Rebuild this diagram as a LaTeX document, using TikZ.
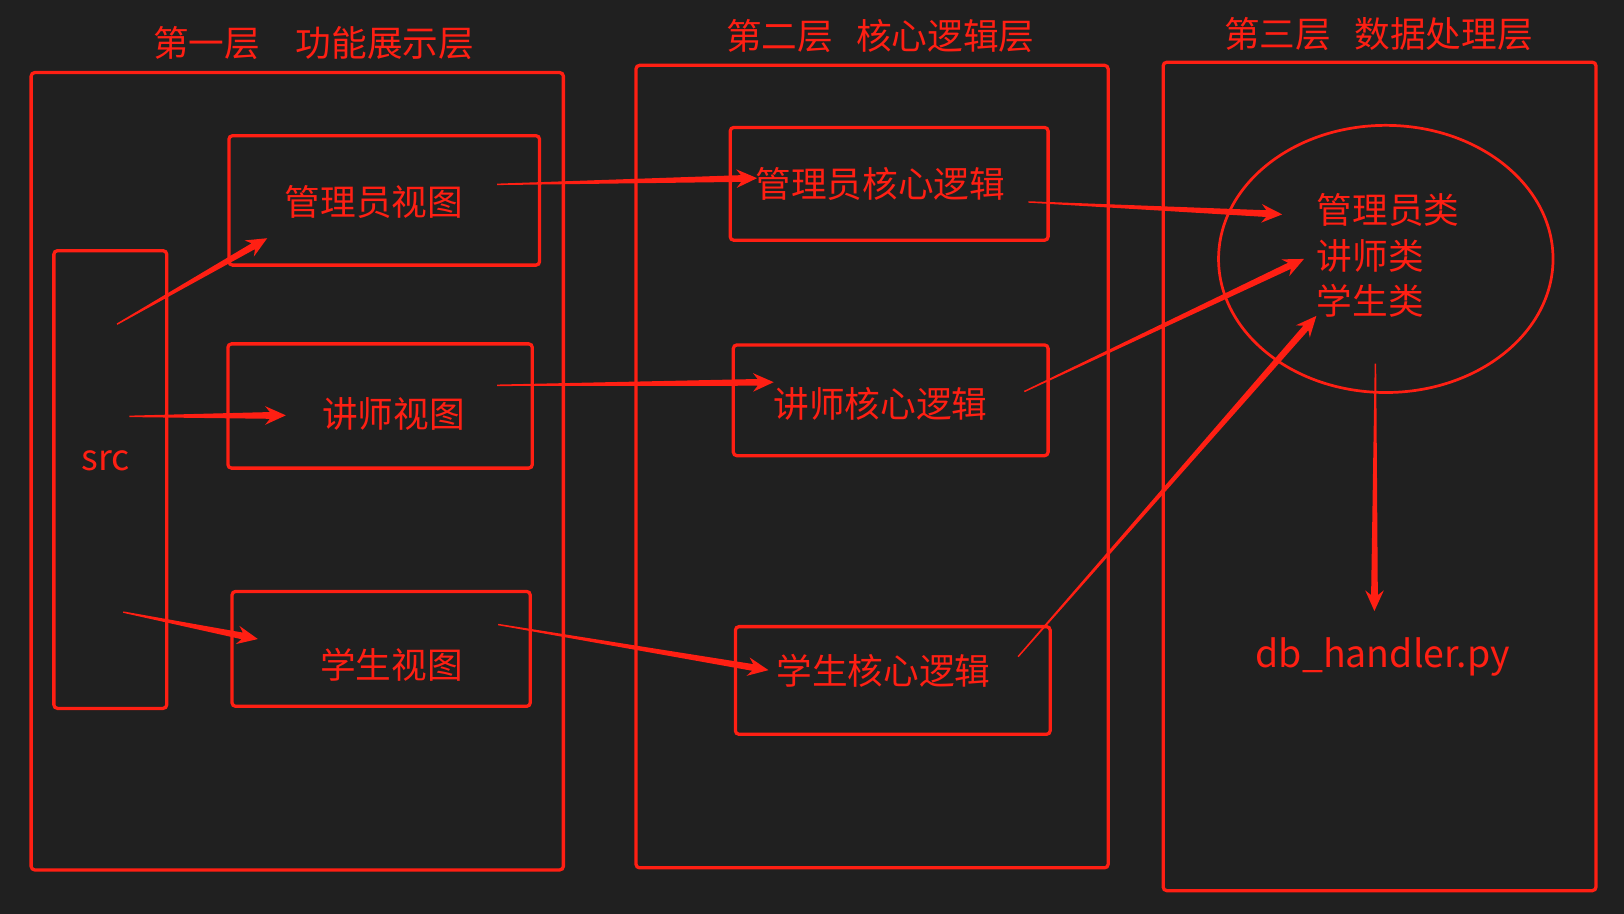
\documentclass[tikz,border=0pt]{standalone}
\usepackage{fontspec}
\setmainfont{Noto Sans CJK SC}
\usetikzlibrary{calc,shapes.geometric}
\definecolor{bgdark}{HTML}{202020}
\definecolor{linered}{HTML}{FF1F13}
\tikzset{
  layerbox/.style={
    rectangle, rounded corners=2pt, draw=linered, line width=1.8pt,
    inner sep=0pt
  },
  viewbox/.style={
    rectangle, rounded corners=2pt, draw=linered, line width=1.8pt,
    inner sep=0pt
  },
  title/.style={font=\fontsize{19.6}{24}\selectfont, text=linered},
  boxtext/.style={font=\fontsize{19.6}{25}\selectfont, text=linered, inner sep=0pt},
  modeltext/.style={font=\fontsize{19.6}{25}\selectfont, text=linered, align=left, inner sep=0pt}
}
% tapered arrow: thin at the start, thick near the head
\newcommand{\taperarrow}[2]{
  \coordinate (tb) at ($(#2)!0.40cm!(#1)$);
  \coordinate (tn) at ($(#2)!0.31cm!(#1)$);
  \fill[linered] ($(#1)!0.4pt!90:(#2)$) -- ($(tn)!0.065cm!90:(#2)$)
    -- ($(tb)!0.18cm!90:(#2)$) -- (#2) -- ($(tb)!0.18cm!-90:(#2)$)
    -- ($(tn)!0.065cm!-90:(#2)$) -- ($(#1)!0.4pt!-90:(#2)$) -- cycle;
}

\begin{document}
\begin{tikzpicture}[x=0.02cm,y=-0.02cm]
\fill[bgdark] (0,0) rectangle (1568,882);
% layers
\node[title] (title1) at (303,42) {第一层　功能展示层};
\node[title] (title2) at (850,35) {第二层\hspace{0.65em}核心逻辑层};
\node[title] (title3) at (1331,33) {第三层\hspace{0.65em}数据处理层};
\node[layerbox, minimum width=10.28cm, minimum height=15.4cm] (layer1) at (287,455) {};
\node[layerbox, minimum width=9.12cm, minimum height=15.5cm] (layer2) at (842,450.5) {};
\node[layerbox, minimum width=8.36cm, minimum height=16cm] (layer3) at (1332,460) {};
% first layer
\node[viewbox, minimum width=2.18cm, minimum height=8.84cm] (srcbox) at (106.5,463) {};
\node[boxtext] (srctxt) at (102,445) {src};
\node[viewbox, minimum width=6cm, minimum height=2.5cm] (admview) at (371,193.5) {};
\node[boxtext] (admviewtxt) at (361,195) {管理员视图};
\node[viewbox, minimum width=5.88cm, minimum height=2.4cm] (teaview) at (367,392) {};
\node[boxtext] (teaviewtxt) at (380,400) {讲师视图};
\node[viewbox, minimum width=5.76cm, minimum height=2.22cm] (stuview) at (368,626.5) {};
\node[boxtext] (stuviewtxt) at (378,642) {学生视图};
% second layer
\node[viewbox, minimum width=6.14cm, minimum height=2.18cm] (admcore) at (858.5,177.5) {};
\node[boxtext] (admcoretxt) at (850,178) {管理员核心逻辑};
\node[viewbox, minimum width=6.08cm, minimum height=2.14cm] (teacore) at (860,386.5) {};
\node[boxtext] (teacoretxt) at (850,390) {讲师核心逻辑};
\node[viewbox, minimum width=6.08cm, minimum height=2.08cm] (stucore) at (862,657) {};
\node[boxtext] (stucoretxt) at (853,648) {学生核心逻辑};
% third layer
\node[ellipse, draw=linered, line width=1.5pt, minimum width=6.46cm, minimum height=5.16cm] (models) at (1338,250) {};
\node[modeltext, anchor=west] (modeltxt) at (1271,247) {管理员类\\讲师类\\学生类};
\node[boxtext, font=\fontsize{20.6}{26}\selectfont] (dbfile) at (1335,634) {db\_handler.py};
% arrow ends
\coordinate (s1) at (113,313); \coordinate (e1) at (258,230);
\coordinate (s2) at (125,402); \coordinate (e2) at (276,401);
\coordinate (s3) at (119,591); \coordinate (e3) at (249,617);
\coordinate (v1) at (480,178); \coordinate (k1) at (731,172);
\coordinate (v2) at (480,372); \coordinate (k2) at (747,369);
\coordinate (v3) at (481,603); \coordinate (k3) at (742,647);
\coordinate (c1) at (993,195); \coordinate (m1) at (1238,207);
\coordinate (c2) at (989,378); \coordinate (m2) at (1259,250);
\coordinate (c3) at (983,634); \coordinate (m3) at (1271,305);
\coordinate (mb) at (1328,351); \coordinate (db) at (1327,590);
\taperarrow{s1}{e1}
\taperarrow{s2}{e2}
\taperarrow{s3}{e3}
\taperarrow{v1}{k1}
\taperarrow{v2}{k2}
\taperarrow{v3}{k3}
\taperarrow{c1}{m1}
\taperarrow{c2}{m2}
\taperarrow{c3}{m3}
\taperarrow{mb}{db}
\end{tikzpicture}
\end{document}
